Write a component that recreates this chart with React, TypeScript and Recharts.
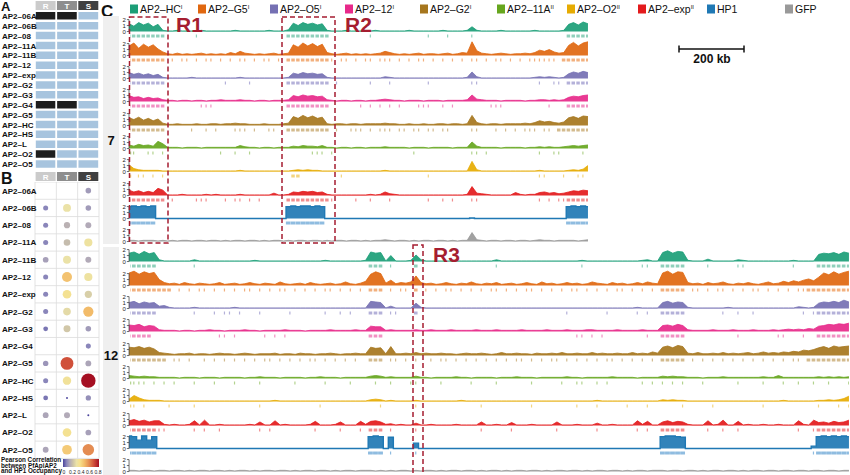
import React from 'react';
import {
  Area,
  Bar,
  BarChart,
  Cell,
  ComposedChart,
  ReferenceLine,
  Scatter,
  ScatterChart,
  XAxis,
  YAxis,
} from 'recharts';

const FONT = '"Liberation Sans", Arial, Helvetica, sans-serif';
const DARK_RED = '#a51d30';

// ---- panels A and B -------------------------------------------------------
const factors = [
  'AP2–06A', 'AP2–06B', 'AP2–08', 'AP2–11A', 'AP2–11B', 'AP2–12', 'AP2–exp', 'AP2–G2',
  'AP2–G3', 'AP2–G4', 'AP2–G5', 'AP2–HC', 'AP2–HS', 'AP2–L', 'AP2–O2', 'AP2–O5',
];
const stages = ['R', 'T', 'S'];
// 1 = no data for that stage (black cell)
const missingR = [1, 0, 0, 0, 0, 0, 0, 0, 0, 1, 0, 0, 0, 0, 1, 0];
const missingT = [1, 0, 0, 0, 0, 0, 0, 0, 0, 1, 0, 0, 0, 0, 0, 0];
const missingS = [0, 0, 0, 0, 0, 0, 0, 0, 0, 0, 0, 0, 0, 0, 0, 0];

// Pearson correlation with HP1 occupancy
const corrR = [null, 0.08, 0.08, 0.08, 0.13, 0.08, 0.08, 0.08, 0.06, null, 0.11, 0.08, 0.06, 0.14, null, 0.14];
const corrT = [null, 0.3, 0.17, 0.2, 0.3, 0.46, 0.36, 0.28, 0.23, null, 0.68, 0.34, 0.01, 0.15, 0.36, 0.44];
const corrS = [0.12, 0.12, 0.15, 0.32, 0.15, 0.32, 0.25, 0.48, 0.12, 0.08, 0.14, 0.8, 0.1, 0.0, 0.13, 0.58];
const corrTicks = [0, 0.2, 0.4, 0.6, 0.8];

const corrStops: [number, string][] = [
  [0, '#4b449c'], [0.08, '#8a86ba'], [0.15, '#b2aab8'], [0.22, '#cdc3a8'], [0.3, '#ebe2a7'],
  [0.38, '#f7e08b'], [0.48, '#f2bb69'], [0.58, '#e48c52'], [0.68, '#d0503a'], [0.8, '#a50f22'],
];

const hex = (c: string) => [1, 3, 5].map((k) => parseInt(c.slice(k, k + 2), 16));
const corrColor = (v: number) => {
  if (v <= corrStops[0][0]) return corrStops[0][1];
  for (let k = 1; k < corrStops.length; k++) {
    const [v1, c1] = corrStops[k];
    if (v <= v1) {
      const [v0, c0] = corrStops[k - 1];
      const t = (v - v0) / (v1 - v0);
      const a = hex(c0);
      const b = hex(c1);
      return `rgb(${a.map((x, j) => Math.round(x + (b[j] - x) * t)).join(',')})`;
    }
  }
  return corrStops[corrStops.length - 1][1];
};

// ---- panel C tracks -------------------------------------------------------
// signal in tenths; chr7 window in 96 bins, chr12 window in 144 bins
const hc7 = [
  13,9,15,11,14,8,12,2,
  1,1,2,1,1,1,1,2,1,1, 1,1,1,1,2,1,1,1,1,1, 1,2,1,1,1,
  3,14,10,15,12,14,11,13,2,
  1,1,1,2,1,1,1,1,1,2, 1,1,1,1,1,1,2,1,1,1, 1,1,1,2,1,1,1,1,2,
  8,2,
  1,1,1,1,2,1,1,1,1,1, 1,2,1,1,1,1,1,2,
  12,15,11,16,13,
];
const g5_7 = [
  16,21,12,19,14,18,11,6,
  3,2,4,2,3,2,3,4,2,3, 2,3,2,5,3,7,4,3,2,3, 2,3,4,2,3,
  4,18,14,21,16,20,15,19,5,
  3,2,3,4,2,3,2,3,2,3, 4,7,5,3,2,3,2,3,4,2, 3,3,2,3,4,2,3,5,4,
  23,8,
  4,3,2,3,4,3,2,3,3,4, 3,5,9,7,10,6,4,5,
  17,22,16,21,23,
];
const o5_7 = [
  10,7,9,6,8,5,7,2,
  1,1,1,1,1,2,1,1,1,1, 1,1,1,1,1,2,1,1,1,1, 1,1,1,1,1,
  2,9,7,10,8,9,7,8,2,
  1,1,1,1,1,1,1,1,1,1, 1,3,2,1,1,1,1,1,1,1, 1,1,1,1,1,1,1,1,2,
  11,3,
  1,1,1,1,1,1,1,1,1,1, 1,2,3,2,3,2,1,2,
  8,11,9,12,10,
];
const a12_7 = [
  10,7,8,5,7,5,6,3,
  2,2,1,2,2,1,2,2,1,2, 2,3,2,2,2,3,2,2,1,2, 2,1,2,2,2,
  3,10,8,11,9,10,8,9,3,
  2,1,2,2,1,2,2,1,2,2, 3,4,3,2,2,1,2,2,2,1, 2,2,2,1,2,2,2,2,3,
  11,4,
  3,2,2,2,1,2,2,2,2,1, 2,2,3,3,2,3,2,3,
  7,9,8,10,11,
];
const g2_7 = [
  13,10,14,9,12,8,11,4,
  2,2,3,2,2,2,3,2,2,3, 3,2,3,3,4,3,3,2,2,2, 3,2,2,2,3,
  4,15,12,17,13,16,12,14,3,
  2,3,3,2,3,3,2,3,3,3, 3,4,3,3,2,2,3,2,2,3, 2,2,3,3,2,3,3,2,3,
  17,5,
  3,2,3,3,2,3,3,3,3,4, 3,5,8,6,7,5,4,6,
  13,15,12,16,15,
];
const a11_7 = [
  6,4,7,5,6,4,12,8,
  2,2,2,1,2,2,2,1,2,2, 2,2,2,2,2,5,3,2,2,1, 2,2,1,2,2,
  2,4,3,5,4,4,3,5,2,
  2,1,2,2,1,2,2,1,2,2, 2,3,2,2,2,2,1,2,2,2, 1,2,2,2,2,1,2,2,2,
  11,4,
  2,2,2,2,1,2,2,2,2,1, 2,2,3,2,3,2,2,3,
  4,5,4,5,6,
];
const o2_7 = [
  11,5,3,2,2,2,2,1,
  1,1,1,1,1,1,1,1,1,1, 1,1,1,1,1,2,1,1,1,1, 1,1,1,1,1,
  1,2,3,2,3,2,2,1,1,
  1,1,1,1,1,1,1,1,1,1, 1,2,1,1,1,1,1,1,1,1, 1,1,1,1,1,1,1,1,1,
  17,3,
  1,1,1,1,1,1,1,1,1,1, 1,1,2,1,1,1,1,1,
  2,3,2,4,10,
];
const exp7 = [
  9,6,8,5,7,5,12,9,
  1,1,1,2,1,1,1,1,2,1, 2,1,1,1,1,2,1,1,1,1, 1,1,4,1,1,
  2,6,5,7,6,7,5,6,2,
  1,1,1,1,1,1,1,1,2,1, 2,6,3,2,1,1,1,1,1,1, 1,1,1,1,1,1,1,1,2,
  15,4,
  3,2,1,1,1,1,1,5,2,1, 2,2,5,6,4,5,3,4,
  6,8,7,9,8,
];
const hp1_7 = [
  20,21,20,21,20,21,0,0,
  0,0,0,0,0,0,0,0,0,0, 0,0,0,0,0,0,0,0,0,0, 0,0,0,0,0,
  20,21,20,21,21,20,21,20,0,
  0,0,0,0,0,0,0,0,0,0, 0,0,0,0,0,0,0,0,0,0, 0,0,0,0,0,0,0,0,0,
  1,0,
  0,0,0,0,0,0,0,0,0,0, 0,0,0,0,0,0,0,0,
  20,21,20,21,20,
];
const gfp7 = [
  2,2,1,2,2,2,1,2,
  1,2,1,2,2,1,2,2,1,2, 2,1,2,1,2,2,1,2,2,1, 2,1,2,2,1,
  2,1,2,2,1,2,2,1,2,
  1,2,2,1,2,2,1,2,1,2, 2,3,2,1,2,2,1,2,1,2, 2,1,2,2,1,2,1,2,2,
  15,3,
  2,1,2,2,1,2,2,1,2,2, 1,2,3,2,2,1,2,2,
  2,2,1,2,3,
];

const hc12 = [
  14,16,12,17,13,15,3,1,
  1,1,1,1,1,3,1,1,1,1, 1,1,1,1,1,1,1,2,1,1, 1,1,1,1,1,1,1,1,1,1, 1,2,1,1,1,1,1,1,1,2,
  16,14,15, 1, 10, 1,1,1,2, 11,
  3,1,1,1,1,1,1,1,1,1, 1,1,1,1,1,3,1,1,1,1, 1,1,1,1,1,1,1,1,1,1, 1,1,2,1,1,1,1,1,1,1, 1,1,1,1,2,3,1,1,
  15,18,14,17,16,
  2,1,1,1,4,1,1,1,1,1, 3,2,1,1,1,1,1,1,1,1, 1,2,1,1,1,1,
  12,14,13,15,12,16,14,
];
const g5_12 = [
  21,24,19,23,20,22,10,5,
  3,4,2,5,3,2,4,3,2,3, 5,2,3,4,2,3,5,3,2,4, 3,2,6,3,2,3,4,2,5,3, 2,3,4,2,3,6,3,2,4,7,
  19,23,20, 4, 9, 3,5,4,6, 16,
  5,3,4,2,3,5,3,2,4,3, 6,3,2,4,3,5,2,3,4,2, 3,5,3,2,6,3,4,2,3,5, 3,4,2,3,6,4,3,2,5,3, 4,2,3,5,3,6,4,3,
  21,24,19,23,22,
  5,3,4,2,5,3,4,6,3,2, 4,3,5,3,2,4,6,3,4,7, 5,8,6,9,11,8,
  14,21,18,23,19,22,24,
];
const o5_12 = [
  10,12,8,11,9,10,4,5,
  2,1,1,1,1,2,1,1,1,1, 1,1,1,2,1,1,1,1,1,1, 1,1,1,1,1,1,1,1,1,1, 1,1,1,1,1,1,1,1,1,1,
  12,11,10, 1, 4, 1,1,1,1, 9,
  2,1,1,1,1,1,1,1,1,1, 1,1,1,1,1,1,1,1,1,1, 1,1,1,1,1,1,1,1,1,1, 1,1,1,1,1,1,1,1,1,1, 1,1,1,2,1,1,1,1,
  10,12,9,11,10,
  2,1,1,1,1,1,1,1,2,1, 1,1,1,1,1,1,1,1,1,1, 1,1,3,2,1,2,
  9,11,10,12,10,14,11,
];
const a12_12 = [
  11,10,12,8,10,9,3,2,
  2,2,1,2,2,1,2,2,3,2, 2,1,2,2,2,3,2,2,1,2, 2,2,2,3,2,2,2,1,2,2, 2,2,3,2,2,2,2,3,2,2,
  9,8,8, 2, 3, 2,2,2,2, 3,
  2,2,3,2,2,2,3,2,2,2, 2,3,2,2,2,3,2,2,2,2, 3,2,2,2,2,3,2,2,2,3, 2,2,2,3,3,2,2,2,2,3, 2,2,2,2,3,2,2,2,
  10,11,9,12,10,
  3,2,2,2,2,3,2,2,2,3, 2,2,2,3,2,2,2,3,2,3, 4,3,4,3,5,4,
  9,10,12,11,13,12,14,
];
const g2_12 = [
  14,13,15,12,14,11,5,4,
  3,2,3,3,4,2,3,3,2,3, 4,3,3,2,3,4,3,2,3,3, 3,4,2,3,3,2,4,3,3,2, 3,3,4,3,2,3,3,4,3,3,
  14,12,13, 3, 15, 3,3,4,3, 5,
  3,4,3,3,4,3,3,2,3,4, 3,3,4,3,2,3,5,3,3,4, 3,3,2,4,3,3,4,3,5,3, 3,4,3,3,5,3,4,3,3,4, 3,3,5,3,4,3,6,4,
  14,16,13,17,15,
  4,3,5,3,3,4,3,5,3,4, 3,4,5,3,4,6,4,5,4,6, 5,7,6,9,8,10,
  13,15,12,16,14,15,16,
];
const a11_12 = [
  5,4,3,4,3,3,2,2,
  2,2,1,2,2,2,1,2,2,2, 1,2,2,2,2,1,2,2,3,2, 2,2,1,2,2,2,2,1,2,2, 3,2,2,2,1,2,2,2,2,2,
  4,5,4, 2, 3, 2,2,2,2, 4,
  2,2,1,2,2,2,2,3,2,2, 1,2,2,2,2,1,2,2,2,3, 2,2,2,1,2,2,2,2,2,3, 2,2,1,2,2,2,2,2,3,2, 2,2,2,1,2,2,2,2,
  4,3,4,3,3,
  2,2,2,1,2,2,2,3,2,2, 2,2,2,2,2,3,2,2,5,2, 2,2,2,2,2,2,
  3,2,3,2,3,2,3,
];
const o2_12 = [
  4,10,6,3,2,2,2,1,
  1,1,1,1,1,1,1,1,1,1, 1,1,1,1,1,1,1,1,1,1, 1,2,1,1,1,1,1,1,1,1, 1,1,1,1,1,1,1,1,1,1,
  3,4,3, 1, 2, 1,1,1,1, 2,
  1,1,1,1,1,1,1,1,2,1, 1,1,1,1,1,1,1,1,1,1, 1,1,1,1,1,1,1,1,1,1, 1,1,1,1,1,2,1,1,1,1, 1,1,1,1,1,1,1,1,
  3,2,3,2,2,
  1,1,1,1,1,1,1,1,1,1, 1,1,1,1,1,1,1,1,1,2, 1,1,1,1,1,1,
  2,2,3,2,3,5,9,
];
const exp12 = [
  8,10,7,9,6,8,8,2,
  1,2,1,1,2,8,1,9,1,1, 2,1,1,1,1,1,2,1,6,1, 1,8,1,2,1,1,1,1,2,7, 1,1,1,2,6,1,1,1,7,2,
  7,8,6, 2, 3, 1,2,1,1, 4,
  1,1,2,1,1,1,1,2,1,1, 1,1,6,1,1,2,1,1,5,1, 1,1,2,1,1,1,1,6,1,1, 1,2,1,1,1,4,1,1,2,1, 1,1,1,8,2,7,1,1,
  6,8,5,7,6,
  2,1,1,1,8,1,2,9,1,1, 7,1,2,1,1,2,1,1,2,1, 1,1,8,2,1,9,
  5,6,4,7,5,6,9,
];
const hp1_12 = [
  21,20,14,21,14,20,0,0,
  0,0,0,0,0,0,0,0,0,0, 0,0,0,0,0,0,0,0,0,0, 0,0,0,0,0,0,0,0,0,0, 0,0,0,0,0,0,0,0,0,0,
  20,21,20, 0, 19, 0,0,0,0, 9,
  0,0,0,0,0,0,0,0,0,0, 0,0,0,0,0,0,0,0,0,0, 0,0,0,0,0,0,0,0,0,0, 0,0,0,0,0,0,0,0,0,0, 0,0,0,0,0,0,0,0,
  20,21,21,20,19,
  0,0,0,0,0,0,0,0,0,0, 0,0,0,0,0,0,0,0,0,0, 0,0,0,0,0,4,
  20,21,20,21,20,21,20,
];
const gfp12 = [
  2,2,1,2,2,1,2,2,
  1,2,2,1,2,1,2,2,1,2, 2,1,2,1,2,2,1,2,1,2, 2,1,2,2,1,2,1,2,2,1, 2,2,1,2,1,2,2,1,2,2,
  2,1,2, 1, 2, 1,2,2,1, 2,
  1,2,2,1,2,1,2,2,1,2, 2,1,2,1,2,2,1,2,1,2, 2,1,2,2,1,2,1,2,2,1, 2,2,1,2,1,2,2,1,2,2, 1,2,1,2,2,1,2,2,
  2,1,2,2,1,
  2,2,1,2,1,2,2,1,2,2, 1,2,1,2,2,1,2,2,1,2, 2,1,2,2,1,2,
  2,1,2,2,1,2,2,
];

// called peaks: broad intervals [first bin, last bin] and single-bin ticks
const blocks7 = [
  [[0, 7], [33, 41], [91, 95]],
  [[0, 7], [33, 41], [90, 95]],
  [[0, 7], [33, 41], [91, 95]],
  [[0, 7], [33, 41], [91, 95]],
  [[0, 7], [33, 41], [89, 95]],
  [],
  [[34, 35]],
  [[0, 7], [33, 41], [91, 95]],
  [[0, 5], [33, 40], [91, 95]],
  [],
];
const ticks7 = [
  [14, 50, 62, 66, 71],
  [9, 11, 12, 14, 16, 17, 19, 21, 23, 24, 26, 28, 29, 31, 42, 44, 45, 47, 49, 50, 52, 53, 54, 56, 58, 60, 61, 63, 65, 67, 69, 71, 72, 74, 76, 77, 79, 81, 83, 84, 85, 86, 87, 88],
  [20, 25, 43, 50, 54, 62, 71, 72, 85, 88, 89],
  [15, 16, 17, 48, 50, 52, 54, 56, 60, 61, 62, 65, 67, 75, 76, 77, 87],
  [13, 16, 18, 22, 23, 24, 26, 29, 30, 43, 46, 47, 48, 50, 52, 53, 54, 56, 57, 59, 60, 62, 63, 65, 66, 71, 72, 76, 78, 80, 82, 83, 84, 86, 87],
  [0, 1, 4, 5, 7, 19, 22, 25, 38, 39, 40, 42, 59, 71, 72, 74, 85, 88, 89, 94],
  [0, 2, 3, 5, 7, 44, 62, 85, 86, 90, 93, 94],
  [9, 14, 15, 16, 20, 22, 23, 25, 27, 42, 47, 50, 54, 62, 65, 67, 71, 72, 85, 87, 89, 90],
  [],
  [],
];
const blocks12 = [
  [[0, 5], [48, 50], [57, 57], [106, 110], [137, 143]],
  [[0, 8], [48, 50], [57, 57], [106, 110], [135, 143]],
  [[0, 5], [48, 50], [57, 57], [106, 110], [137, 143]],
  [[0, 4], [48, 50], [106, 110], [137, 143]],
  [[0, 7], [48, 50], [106, 110], [135, 143]],
  [],
  [],
  [[0, 5], [48, 50], [106, 110], [137, 143]],
  [[0, 5], [48, 50], [106, 110], [137, 143]],
  [],
];
const ticks12 = [
  [13, 52, 73, 90, 102, 103, 115, 121, 122, 132],
  [10, 12, 14, 15, 17, 19, 21, 23, 24, 26, 28, 30, 31, 33, 35, 37, 39, 40, 42, 44, 46, 52, 54, 55, 59, 61, 63, 64, 66, 68, 70, 72, 73, 75, 77, 79, 80, 82, 84, 86, 88, 89, 91, 93, 95, 97, 98, 100, 102, 104, 112, 113, 115, 117, 118, 120, 122, 124, 125, 127, 129, 131, 133, 134],
  [13, 17, 19, 20, 22, 26, 32, 39, 42, 44, 52, 53, 87, 95, 101, 103, 118, 121, 124, 134, 136],
  [18, 19, 21, 27, 29, 31, 89, 90, 92, 94, 103, 121, 129, 130, 134],
  [9, 10, 12, 15, 17, 19, 21, 23, 25, 27, 28, 30, 32, 34, 36, 37, 39, 41, 43, 45, 52, 53, 55, 57, 60, 62, 63, 65, 67, 69, 71, 73, 75, 77, 78, 80, 82, 84, 85, 87, 89, 91, 93, 95, 96, 98, 100, 102, 104, 112, 114, 116, 118, 120, 122, 124, 126, 128, 130, 132, 133],
  [0, 1, 2, 3, 5, 7, 9, 13, 17, 21, 26, 33, 39, 44, 49, 52, 56, 57, 62, 68, 73, 80, 86, 89, 90, 93, 95, 102, 104, 106, 108, 110, 114, 121, 126, 130, 133, 136, 139, 143],
  [0, 1, 3, 8, 13, 26, 38, 50, 57, 70, 80, 89, 93, 99, 103, 110, 116, 126, 137, 141, 143],
  [6, 7, 13, 15, 18, 26, 28, 37, 42, 46, 52, 57, 70, 76, 85, 93, 101, 103, 115, 118, 121, 133, 136],
  [52, 57, 136],
  [],
];

const chr7 = [hc7, g5_7, o5_7, a12_7, g2_7, a11_7, o2_7, exp7, hp1_7, gfp7];
const chr12 = [hc12, g5_12, o5_12, a12_12, g2_12, a11_12, o2_12, exp12, hp1_12, gfp12];

const tracks = [
  { name: 'AP2–HC', mark: 'I', color: '#1b9e77', peak: '#8fd0bb' },
  { name: 'AP2–G5', mark: 'I', color: '#e0670f', peak: '#f2b07e' },
  { name: 'AP2–O5', mark: 'I', color: '#7570b3', peak: '#b4b1d9' },
  { name: 'AP2–12', mark: 'I', color: '#e7298a', peak: '#f291c3' },
  { name: 'AP2–G2', mark: 'I', color: '#a6761d', peak: '#d3bb8e' },
  { name: 'AP2–11A', mark: 'II', color: '#66a61e', peak: '#b3d38f' },
  { name: 'AP2–O2', mark: 'II', color: '#e6ab02', peak: '#f3d581' },
  { name: 'AP2–exp', mark: 'II', color: '#e31a1c', peak: '#f18d8e' },
  { name: 'HP1', mark: '', color: '#1f78b4', peak: '#8fbce0' },
  { name: 'GFP', mark: '', color: '#999999', peak: '#cccccc' },
];
const legendX = [130, 198, 270, 345, 420, 497, 567, 638, 707, 785];

const TRACK_H = 23.3;
const UNIT = TRACK_H / 3.9;
const AXIS_W = 10;

const TrackTick = (props: any) => {
  const { x, y, payload } = props;
  return (
    <g>
      <text x={x - 0.3} y={y + 2} textAnchor="end" fontSize={6} fill="#222" fontFamily={FONT}>
        {payload.value}
      </text>
      <line x1={x + 0.8} x2={x + 3} y1={y} y2={y} stroke="#333" strokeWidth={0.7} />
      {payload.value < 2 && <line x1={x + 3} x2={x + 3} y1={y} y2={y - UNIT} stroke="#333" strokeWidth={0.7} />}
    </g>
  );
};

interface TrackProps {
  values: number[];
  blocks: number[][];
  ticks: number[];
  color: string;
  peak: string;
  plotW: number;
  top: number;
  solid: boolean;
}

const Track = ({ values, blocks, ticks, color, peak, plotW, top, solid }: TrackProps) => {
  const n = values.length;
  const data = values.map((v, i) => {
    const inBlock = blocks.some(([a, b]) => i >= a && i <= b);
    const pk = inBlock ? 2 : ticks.includes(i) ? 1 : 0;
    return { i, v: v / 10, pk, r: pk ? [-1.0, -0.5] : null };
  });
  const step = plotW / (n - 1);
  const peakShape = (p: any) => {
    const { x, y, width, height, payload } = p;
    if (!payload || !payload.pk || !height) return <g />;
    if (payload.pk === 2) {
      const w = solid ? width + 0.3 : width * 0.8;
      const x0 = Math.max(AXIS_W + 1, x + (width - w) / 2);
      const x1 = Math.min(AXIS_W + plotW, x + (width + w) / 2);
      return <rect x={x0} y={y} width={Math.max(0, x1 - x0)} height={height} fill={peak} />;
    }
    return <rect x={Math.max(AXIS_W + 1, x + width / 2 - 0.6)} y={y} width={1.2} height={height} fill={peak} />;
  };
  return (
    <div style={{ position: 'absolute', left: 129 - AXIS_W, top }}>
      <ComposedChart width={plotW + AXIS_W} height={TRACK_H} data={data} margin={{ top: 0, right: 0, bottom: 0, left: 0 }}>
        <XAxis type="number" dataKey="i" domain={[0, n - 1]} hide />
        <YAxis
          type="number"
          domain={[-1.3, 2.6]}
          ticks={[0, 1, 2]}
          interval={0}
          width={AXIS_W}
          axisLine={false}
          tickLine={false}
          tickSize={3}
          tickMargin={0}
          tick={TrackTick}
          allowDataOverflow
        />
        <Bar dataKey="r" barSize={step} shape={peakShape} isAnimationActive={false} />
        <Area
          type={solid ? 'step' : 'linear'}
          dataKey="v"
          stroke={color}
          strokeWidth={solid ? 1.4 : 0.8}
          fill={color}
          fillOpacity={0.92}
          baseValue={0}
          dot={false}
          activeDot={false}
          isAnimationActive={false}
        />
      </ComposedChart>
    </div>
  );
};

const RowTick = (props: any) => {
  const { y, payload } = props;
  const label = typeof payload.value === 'number' ? factors[Math.floor(payload.value)] : payload.value;
  return (
    <text x={2} y={y + 3} textAnchor="start" fontSize={8} fontWeight="bold" fill="#111" fontFamily={FONT}>
      {label}
    </text>
  );
};

const PanelA = () => {
  const data = factors.map((name) => ({ name, r: 1, t: 1, s: 1 }));
  const miss = [missingR, missingT, missingS];
  return (
    <div style={{ position: 'absolute', left: 0, top: 11 }}>
      <BarChart layout="vertical" width={100} height={158} data={data} margin={{ top: 0, right: 1, bottom: 0, left: 0 }} barCategoryGap={0.3}>
        <XAxis type="number" domain={[0, 3]} hide />
        <YAxis type="category" dataKey="name" width={35} axisLine={false} tickLine={false} interval={0} tick={RowTick} />
        {['r', 't', 's'].map((key, c) => (
          <Bar key={key} dataKey={key} stackId="a" stroke="#fff" strokeWidth={1.6} isAnimationActive={false}>
            {data.map((d, k) => (
              <Cell key={d.name} fill={miss[c][k] ? '#1e1e1e' : '#a7c4de'} />
            ))}
          </Bar>
        ))}
      </BarChart>
    </div>
  );
};

const PanelB = () => {
  const cols = [corrR, corrT, corrS];
  const points: { x: number; y: number; v: number }[] = [];
  cols.forEach((col, c) =>
    col.forEach((v, k) => {
      if (v !== null) points.push({ x: c + 0.5, y: k + 0.5, v });
    }),
  );
  const dot = (p: any) => {
    const v = p.payload.v;
    const r = v < 0.03 ? 1 : 2 + 6.5 * v;
    return <circle cx={p.cx} cy={p.cy} r={r} fill={corrColor(v)} />;
  };
  return (
    <div style={{ position: 'absolute', left: 0, top: 182.4 }}>
      <ScatterChart width={100} height={276.4} margin={{ top: 0, right: 1, bottom: 0, left: 0 }}>
        <XAxis type="number" dataKey="x" domain={[0, 3]} hide />
        <YAxis
          type="number"
          dataKey="y"
          domain={[0, 16]}
          reversed
          ticks={factors.map((_, k) => k + 0.5)}
          interval={0}
          width={35}
          axisLine={false}
          tickLine={false}
          tick={RowTick}
        />
        {factors.map((_, k) => (
          <ReferenceLine key={`h${k}`} y={k} stroke="#dcdcdc" strokeWidth={0.8} />
        ))}
        <ReferenceLine y={16} stroke="#dcdcdc" strokeWidth={0.8} />
        {[0, 1, 2, 3].map((k) => (
          <ReferenceLine key={`v${k}`} x={k} stroke="#dcdcdc" strokeWidth={0.8} />
        ))}
        <Scatter data={points} shape={dot} isAnimationActive={false} />
      </ScatterChart>
    </div>
  );
};

const headerFill = ['#cbcbcb', '#8e8e8e', '#404040'];

const Overlay = () => (
  <svg width={850} height={475} style={{ position: 'absolute', left: 0, top: 0, pointerEvents: 'none' }} fontFamily={FONT}>
    <defs>
      <linearGradient id="corr" x1="0" x2="1" y1="0" y2="0">
        {corrStops.map(([v, c]) => (
          <stop key={v} offset={`${(v / 0.8) * 100}%`} stopColor={c} />
        ))}
      </linearGradient>
    </defs>
    {/* panel letters */}
    <text x={1} y={10.5} fontSize={13} fontWeight="bold" fill="#111">A</text>
    <text x={1} y={184} fontSize={16} fontWeight="bold" fill="#111">B</text>
    <text x={101} y={17} fontSize={17} fontWeight="bold" fill="#111">C</text>
    {/* stage headers */}
    {stages.map((h, k) => (
      <g key={h}>
        <rect x={35.6 + k * 21.35} y={1} width={20} height={9} fill={headerFill[k]} />
        <text x={45.6 + k * 21.35} y={8.8} fontSize={8} fontWeight="bold" fill="#fff" textAnchor="middle">{h}</text>
        <rect x={35.6 + k * 21.35} y={172} width={20} height={9} fill={headerFill[k]} />
        <text x={45.6 + k * 21.35} y={179.8} fontSize={8} fontWeight="bold" fill="#fff" textAnchor="middle">{h}</text>
      </g>
    ))}
    {/* correlation legend */}
    <text fontSize={6.3} fontWeight="bold" fill="#111">
      <tspan x={1} y={462}>Pearson Correlation</tspan>
      <tspan x={1} y={467.5}>between PfApiAP2</tspan>
      <tspan x={1} y={473}>and HP1 Occupancy</tspan>
    </text>
    <rect x={63} y={459} width={36} height={8} fill="url(#corr)" />
    {corrTicks.map((t) => (
      <text key={t} x={64 + (t / 0.8) * 34} y={473.5} fontSize={5} fill="#222" textAnchor="middle">{t}</text>
    ))}
    {/* chromosome strips */}
    <rect x={103} y={16} width={16} height={228} fill="#efefef" />
    <rect x={103} y={247} width={16} height={228} fill="#efefef" />
    <text x={111} y={145} fontSize={13} fontWeight="bold" fill="#111" textAnchor="middle">7</text>
    <text x={111} y={360} fontSize={13} fontWeight="bold" fill="#111" textAnchor="middle">12</text>
    {/* series legend */}
    {tracks.map((t, k) => (
      <g key={t.name}>
        <rect x={legendX[k]} y={4.5} width={8} height={9} fill={t.color} />
        <text x={legendX[k] + 10} y={13} fontSize={10.5} fill="#111">
          {t.name}
          {t.mark && <tspan dy={-4} fontSize={6}>{t.mark}</tspan>}
        </text>
      </g>
    ))}
    {/* highlighted regions */}
    <rect x={129.5} y={17} width={38.5} height={226} fill="none" stroke={DARK_RED} strokeWidth={1.5} strokeDasharray="5 3" />
    <rect x={282} y={17} width={53} height={226} fill="none" stroke={DARK_RED} strokeWidth={1.5} strokeDasharray="5 3" />
    <rect x={413} y={245} width={10} height={240} fill="none" stroke={DARK_RED} strokeWidth={1.5} strokeDasharray="5 3" />
    <text x={176} y={32} fontSize={21} fontWeight="bold" fill={DARK_RED}>R1</text>
    <text x={345} y={32} fontSize={21} fontWeight="bold" fill={DARK_RED}>R2</text>
    <text x={433} y={262} fontSize={21} fontWeight="bold" fill={DARK_RED}>R3</text>
    {/* scale bar */}
    <line x1={679} x2={744} y1={49} y2={49} stroke="#111" strokeWidth={1.5} />
    <line x1={679} x2={679} y1={45.5} y2={52.5} stroke="#111" strokeWidth={1.5} />
    <line x1={744} x2={744} y1={45.5} y2={52.5} stroke="#111" strokeWidth={1.5} />
    <text x={712} y={63} fontSize={12} fontWeight="bold" fill="#111" textAnchor="middle">200 kb</text>
  </svg>
);

const App = () => {
  const top7 = 32 - 2.6 * UNIT;
  const top12 = 262 - 2.6 * UNIT;
  return (
    <div
      style={{
        position: 'absolute',
        left: 0,
        top: 0,
        width: 850,
        height: 475,
        overflow: 'hidden',
        background: '#fff',
        fontFamily: FONT,
      }}
    >
      <PanelA />
      <PanelB />
      {chr7.map((values, k) => (
        <Track
          key={`c7-${k}`}
          values={values}
          blocks={blocks7[k]}
          ticks={ticks7[k]}
          color={tracks[k].color}
          peak={tracks[k].peak}
          plotW={459}
          top={top7 + k * TRACK_H}
          solid={tracks[k].name === 'HP1'}
        />
      ))}
      {chr12.map((values, k) => (
        <Track
          key={`c12-${k}`}
          values={values}
          blocks={blocks12[k]}
          ticks={ticks12[k]}
          color={tracks[k].color}
          peak={tracks[k].peak}
          plotW={720}
          top={top12 + k * TRACK_H}
          solid={tracks[k].name === 'HP1'}
        />
      ))}
      <Overlay />
    </div>
  );
};

export default App;
